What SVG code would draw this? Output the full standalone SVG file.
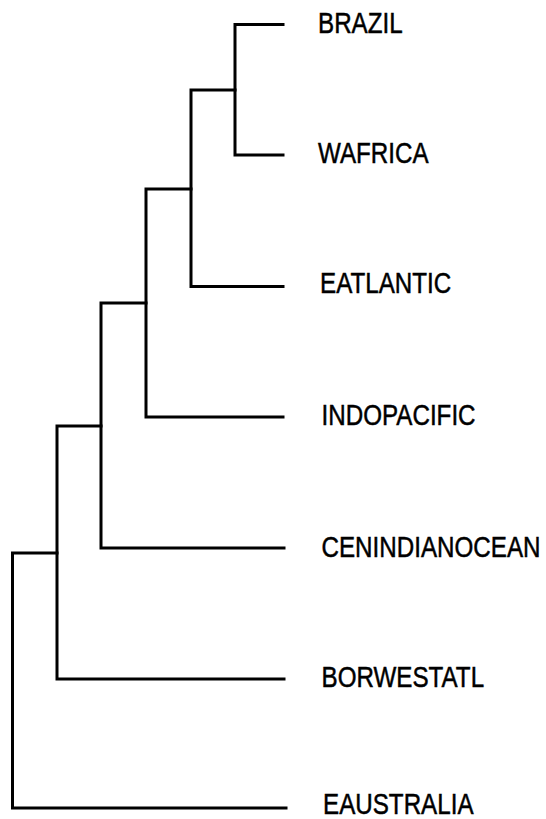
<svg xmlns="http://www.w3.org/2000/svg" width="546" height="819" viewBox="0 0 546 819">
<style>
.e{fill:none;stroke:#000;stroke-width:3;stroke-linejoin:miter;stroke-linecap:square}
.t{font-family:"Liberation Sans",Arial,sans-serif;font-size:29.5px;fill:#000;stroke:#000;stroke-width:0.5}
</style>
<rect width="546" height="819" fill="#fff"/>
<g id="connectors">
<path class="e" d="M283 24.5H235V155H283"/>
<path class="e" d="M235 90H191V286.5H283"/>
<path class="e" d="M191 189H146V417H283"/>
<path class="e" d="M146 303H101V548H284"/>
<path class="e" d="M101 426H57V679H284"/>
<path class="e" d="M57 553H12.5V808H286"/>
</g>
<g id="BRAZIL"><text class="t" transform="translate(318,32.5) scale(0.82,1)">BRAZIL</text></g>
<g id="WAFRICA"><text class="t" transform="translate(318,163) scale(0.82,1)">WAFRICA</text></g>
<g id="EATLANTIC"><text class="t" transform="translate(320,292.5) scale(0.82,1)">EATLANTIC</text></g>
<g id="INDOPACIFIC"><text class="t" transform="translate(321.5,424.5) scale(0.82,1)">INDOPACIFIC</text></g>
<g id="CENINDIANOCEAN"><text class="t" transform="translate(321.5,556.5) scale(0.82,1)">CENINDIANOCEAN</text></g>
<g id="BORWESTATL"><text class="t" transform="translate(321.5,687) scale(0.82,1)">BORWESTATL</text></g>
<g id="EAUSTRALIA"><text class="t" transform="translate(323,814) scale(0.82,1)">EAUSTRALIA</text></g>
</svg>
